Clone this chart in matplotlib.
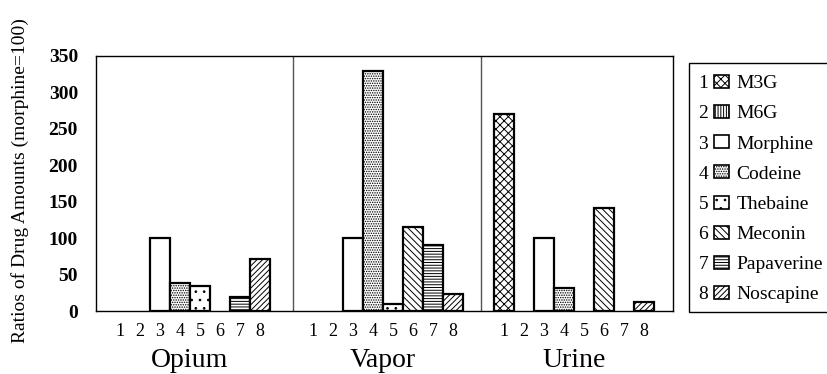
import matplotlib
matplotlib.use('Agg')
import matplotlib.pyplot as plt
from matplotlib.patches import Patch, Rectangle
from matplotlib.transforms import blended_transform_factory
import numpy as np

plt.rcParams['font.family'] = ['Liberation Serif', 'DejaVu Serif']
plt.rcParams['hatch.linewidth'] = 0.7

groups = ['Opium', 'Vapor', 'Urine']
compounds = ['M3G', 'M6G', 'Morphine', 'Codeine', 'Thebaine', 'Meconin', 'Papaverine', 'Noscapine']
slot_labels = ['1', '2', '3', '4', '5', '6', '7', '8']
opium = [0, 0, 100, 39, 34, 0, 19, 71]
vapor = [0, 0, 100, 330, 10, 115, 90, 24]
urine = [270, 0, 100, 31, 0, 141, 0, 13]
yticks = [0, 50, 100, 150, 200, 250, 300, 350]

hatches = ['xxxx', '||||||', '', '.......', '..', '\\\\\\\\\\', '------', '//////']
offsets = [0.2, 9.85, 19.4]
separators = [9.85, 19.25]

fig = plt.figure(figsize=(8.27, 3.74), dpi=100)
ax = fig.add_axes([96/827, 1-311/374, (673-96)/827, (311-56)/374])

series = [opium, vapor, urine]
ticks = []
ticklabels = []
for g, vals in enumerate(series):
    xs = offsets[g] + np.arange(1, 9)
    for i, (x, v) in enumerate(zip(xs, vals)):
        if v > 0:
            ax.bar(x, v, width=1.0, facecolor='white', edgecolor='black',
                   linewidth=1.6, hatch=hatches[i], zorder=3)
    ticks.extend(xs)
    ticklabels.extend(slot_labels)
    ax.text(offsets[g] + 4.5, -0.218, groups[g],
            transform=blended_transform_factory(ax.transData, ax.transAxes),
            ha='center', va='baseline', fontsize=20)

for s in separators:
    ax.axvline(s, color='#555555', linewidth=1.0, zorder=2)

ax.set_xlim(0, 28.85)
ax.set_ylim(0, 350)
ax.set_yticks(yticks)
ax.set_yticklabels([str(t) for t in yticks], fontsize=14, fontweight='bold')
ax.tick_params(axis='y', length=0, pad=13)
ax.set_xticks(ticks)
ax.set_xticklabels(ticklabels, fontsize=13)
ax.tick_params(axis='x', which='major', length=0, pad=9)
minor = [offsets[0] + 1, offsets[0] + 2, offsets[1] + 1, offsets[1] + 2]
ax.set_xticks(minor, minor=True)
ax.tick_params(axis='x', which='minor', direction='in', length=7, width=1.0)
for sp in ax.spines.values():
    sp.set_linewidth(1.0)

fig.text(20/827, 1-181/374, 'Ratios of Drug Amounts (morphine=100)',
         rotation=90, ha='center', va='center', fontsize=14)

handles = [Patch(facecolor='white', edgecolor='black', linewidth=1.2, hatch=h) for h in hatches]
leg = fig.legend(handles, compounds, loc='upper left',
                 bbox_to_anchor=(714/827, 1-75/374), frameon=False,
                 fontsize=14, handlelength=0.75, handleheight=0.65,
                 handletextpad=0.4, labelspacing=0.66, borderpad=0, borderaxespad=0)

fig.add_artist(Rectangle((689/827, 1-312/374), 140/827, (312-63)/374,
                         transform=fig.transFigure, fill=False,
                         edgecolor='black', linewidth=1.0))

fig.canvas.draw()
inv = fig.transFigure.inverted()
for i, (h, t) in enumerate(zip(leg.legend_handles, leg.get_texts())):
    bb = h.get_window_extent()
    tb = t.get_window_extent()
    x0, y0 = inv.transform((bb.x0 - 6, (tb.y0 + tb.y1) / 2))
    fig.text(x0, y0, slot_labels[i], ha='right', va='center', fontsize=14)

fig.savefig('out.png', dpi=100)
